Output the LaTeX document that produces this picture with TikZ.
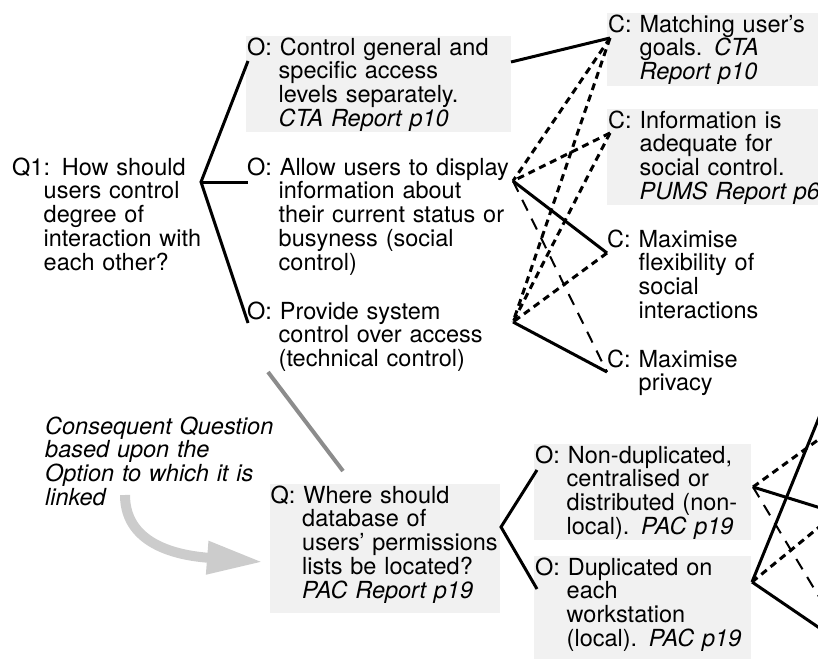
\documentclass[tikz,border=0pt]{standalone}
\usepackage{fontspec}
\setmainfont{TeX Gyre Heros}
\usetikzlibrary{arrows.meta}
\definecolor{boxgray}{gray}{0.945}
\definecolor{linkgray}{gray}{0.55}
\definecolor{notegray}{gray}{0.80}
% entry text: first line flush, later lines indented under the text after the prefix
\newcommand\hangtext[2][6pt]{\rule{0pt}{19pt}#2\rule[-#1]{0pt}{#1}}
\newcommand\nl{\newline\hspace*{31.5pt}}
\begin{document}
\begin{tikzpicture}[x=1pt,y=-1pt,
  every node/.style={font=\fontsize{23.5pt}{23.7pt}\selectfont, inner sep=0pt, anchor=north west, align=left},
  card/.style={fill=boxgray, inner xsep=1pt},
  pro/.style={line width=3pt},
  con/.style={line width=3pt, dash pattern=on 7pt off 5pt},
  weak/.style={line width=2pt, dash pattern=on 12pt off 9pt},
  link/.style={line width=4pt, draw=linkgray},
]
\clip (0,0) rectangle (818,658);

% questions, options and criteria
\node[text width=200pt] (q1) at (12,156) {\hangtext{Q1: How should\nl users control\nl degree of\nl interaction with\nl each other?}};
\node[card, text width=263pt] (o1) at (246,36) {\hangtext{O: Control general and\nl specific access\nl levels separately.\nl \textit{CTA Report p10}}};
\node[text width=270pt] (o2) at (247,156) {\hangtext{O: Allow users to display\nl information about\nl their current status or\nl busyness (social\nl control)}};
\node[text width=270pt] (o3) at (247,300) {\hangtext{O: Provide system\nl control over access\nl (technical control)}};
\node[card, text width=230pt] (c1) at (607,13) {\hangtext{C: Matching user’s\nl goals. \textit{CTA}\nl \textit{Report p10}}};
\node[card, text width=230pt] (c2) at (607,109) {\hangtext{C: Information is\nl adequate for\nl social control.\nl \textit{PUMS Report p6}}};
\node[text width=230pt] (c3) at (607,228) {\hangtext{C: Maximise\nl flexibility of\nl social\nl interactions}};
\node[text width=230pt] (c4) at (607,348) {\hangtext{C: Maximise\nl privacy}};
\node[text width=260pt] (note) at (45,415) {\itshape\rule{0pt}{19pt}Consequent Question\newline based upon the\newline Option to which it is\newline linked};
\node[card, text width=228pt] (q) at (269.5,484) {\hangtext[15pt]{Q: Where should\nl database of\nl users’ permissions\nl lists be located?\nl \textit{PAC Report p19}}};
\node[card, text width=215pt] (nd) at (534,444) {\hangtext{O: Non-duplicated,\nl centralised or\nl distributed (non-\nl local). \textit{PAC p19}}};
\node[card, text width=215pt] (d) at (534,556) {\hangtext[15pt]{O: Duplicated on\nl each\nl workstation\nl (local). \textit{PAC p19}}};

% connection points
\coordinate (q1f) at (201,182);
\coordinate (o1l) at (248,61);
\coordinate (o2l) at (248,182);
\coordinate (o3l) at (248,323);
\coordinate (o1r) at (511,62);
\coordinate (o2r) at (513,181);
\coordinate (o3r) at (513,322);
\coordinate (c1l) at (610,38);
\coordinate (c2l) at (610,133);
\coordinate (c3l) at (607,253);
\coordinate (c4l) at (607,372);
\coordinate (o3b) at (268,372);
\coordinate (qt) at (343,471);
\coordinate (notee) at (125,495);
\coordinate (qw) at (263,562);
\coordinate (qr) at (501,527);
\coordinate (ndl) at (537,470);
\coordinate (dl) at (537,589);
\coordinate (ndr) at (753,487);
\coordinate (dr) at (752,582);
\coordinate (x1) at (840,424);
\coordinate (x2) at (840,514);
\coordinate (x3) at (830,615);
\coordinate (x4) at (840,366);
\coordinate (x5) at (840,510);
\coordinate (x6) at (840,642);

% question to options
\draw[pro] (o1l) -- (q1f) -- (o3l);
\draw[pro] (q1f) -- (o2l);

% options to criteria
\draw[pro] (o1r) -- (c1l);
\draw[con] (c1l) -- (o2r);
\draw[con] (c1l) -- (o3r);
\draw[con] (c2l) -- (o2r);
\draw[con] (c2l) -- (o3r);
\draw[pro] (c3l) -- (o2r);
\draw[con] (c3l) -- (o3r);
\draw[pro] (c4l) -- (o3r);
\draw[weak] (o2r) -- (c4l);

% consequent question
\draw[link] (o3b) -- (qt);
\draw[pro] (ndl) -- (qr) -- (dl);
\draw[con] (ndr) -- (x1);
\draw[pro] (ndr) -- (x2);
\draw[weak] (ndr) -- (x3);
\draw[pro] (dr) -- (x4);
\draw[con] (dr) -- (x5);
\draw[pro] (dr) -- (x6);

% annotation arrow
\draw[notegray, line width=10pt, -{Triangle[length=56pt,width=31pt]}] (notee) .. controls (125,548) and (185,556) .. (qw);
\end{tikzpicture}
\end{document}
